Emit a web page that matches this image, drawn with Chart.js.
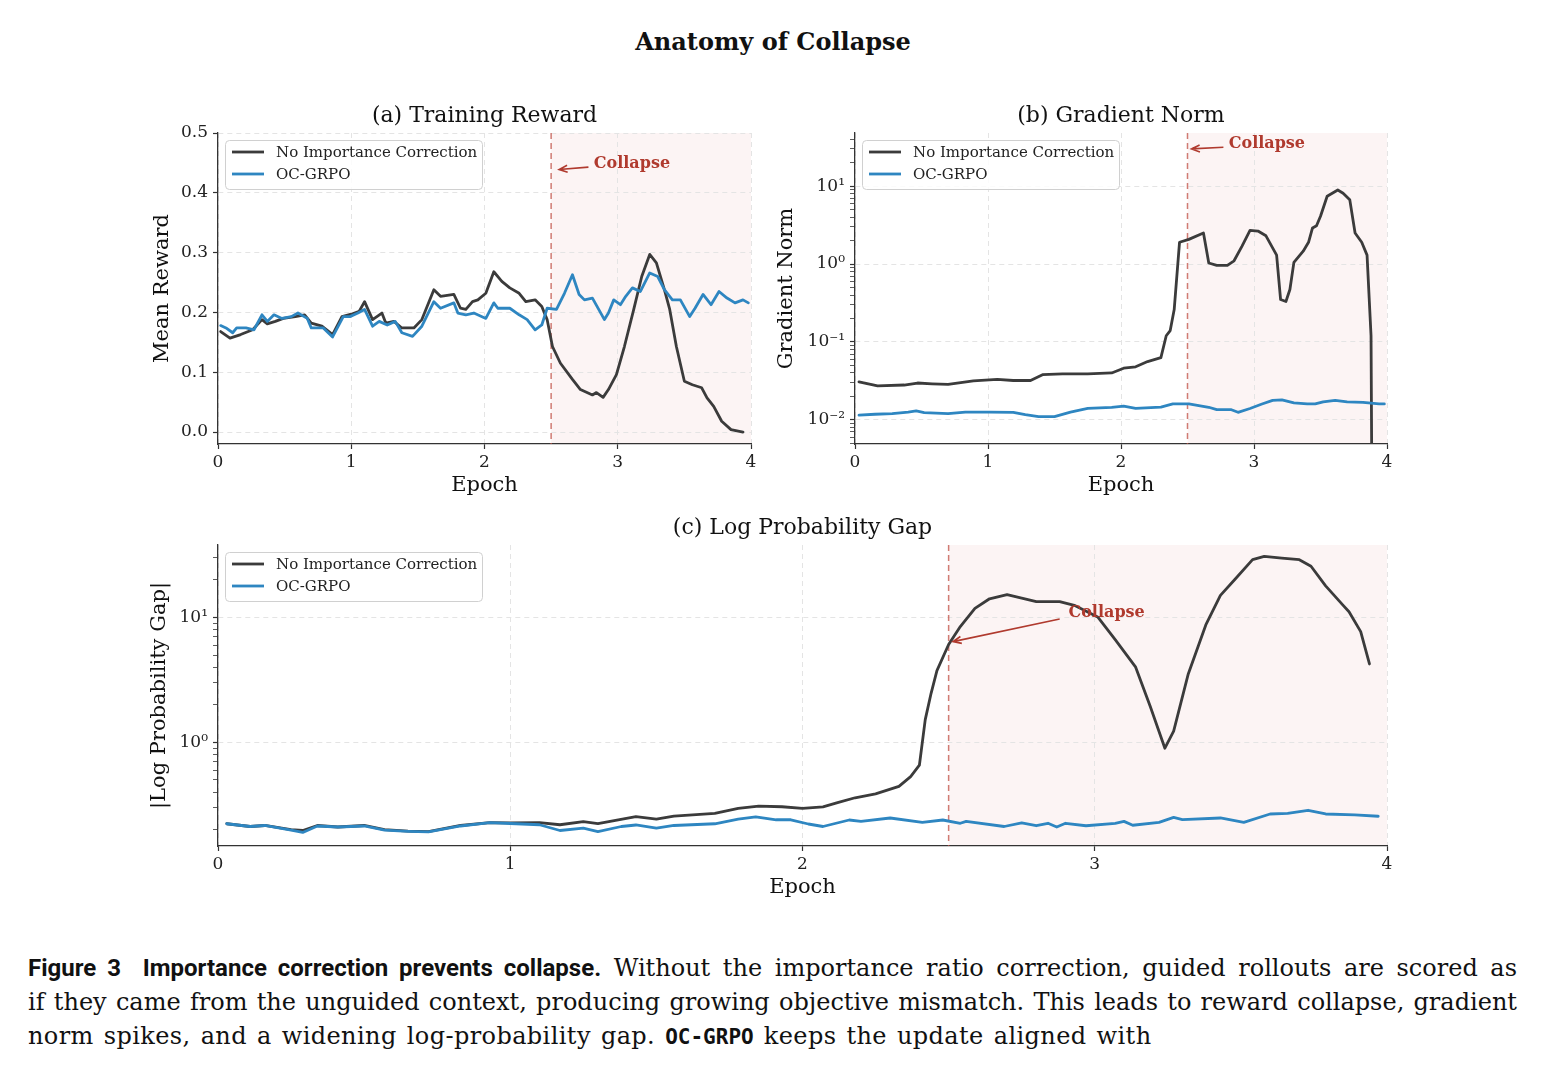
<!DOCTYPE html>
<html>
<head>
<meta charset="utf-8">
<script src="https://cdn.jsdelivr.net/npm/chart.js@4.4.1/dist/chart.umd.min.js"></script>
<style>
  body { margin: 0; background: #fff; width: 1546px; height: 1080px; position: relative; overflow: hidden; }
  .panel { position: absolute; }
  #mainTitle { position: absolute; left: 0; top: 27px; width: 1546px; text-align: center;
    font: bold 24px 'DejaVu Serif', serif; color: #111; }
  #caption { position: absolute; left: 28px; top: 951px; width: 1489px; color: #111;
    font: 24px 'DejaVu Serif', serif; line-height: 34px; }
  #caption .line { text-align: justify; text-align-last: justify; }
  #caption .last { text-align: left; text-align-last: left; letter-spacing: 0.4px; word-spacing: 2px; }
  #caption b { font-family: Roboto, 'Liberation Sans', sans-serif; font-weight: bold; font-size: 24px; letter-spacing: 0; }
  #caption code { font-family: 'DejaVu Sans Mono', monospace; font-size: 21px; font-weight: bold; letter-spacing: 0; }
</style>
</head>
<body>
<div id="mainTitle">Anatomy of Collapse</div>

<div class="panel" style="left:118px;top:100px;"><canvas id="chartA" width="650" height="410"></canvas></div>
<div class="panel" style="left:755px;top:100px;"><canvas id="chartB" width="650" height="410"></canvas></div>
<div class="panel" style="left:118px;top:510px;"><canvas id="chartC" width="1290" height="410"></canvas></div>

<div id="caption">
  <div class="line"><b>Figure 3&nbsp;&nbsp;Importance correction prevents collapse.</b> Without the importance ratio correction, guided rollouts are scored as</div>
  <div class="line">if they came from the unguided context, producing growing objective mismatch. This leads to reward collapse, gradient</div>
  <div class="line last">norm spikes, and a widening log-probability gap. <code>OC-GRPO</code> keeps the update aligned with</div>
</div>

<script>
// ---- data ----
const seriesNames = ['No Importance Correction', 'OC-GRPO'];
const epochTicks = [0, 1, 2, 3, 4];
const collapseEpoch = 2.5;

// (a) training reward
const rewardEpochsNoIC = [0.02,0.09,0.17,0.26,0.33,0.37,0.43,0.49,0.58,0.65,0.70,0.78,0.86,0.93,1.00,1.06,1.10,1.16,1.23,1.26,1.32,1.38,1.47,1.53,1.62,1.67,1.77,1.82,1.86,1.91,1.95,2.01,2.07,2.13,2.19,2.26,2.31,2.38,2.43,2.47,2.51,2.57,2.66,2.72,2.81,2.84,2.89,2.93,2.99,3.05,3.12,3.18,3.24,3.29,3.35,3.39,3.44,3.50,3.56,3.63,3.67,3.72,3.78,3.85,3.94];
const rewardNoIC = [0.168,0.157,0.163,0.171,0.188,0.181,0.185,0.190,0.193,0.196,0.182,0.177,0.163,0.193,0.197,0.202,0.218,0.188,0.199,0.182,0.185,0.174,0.174,0.188,0.238,0.227,0.230,0.207,0.205,0.218,0.221,0.232,0.268,0.252,0.241,0.232,0.218,0.221,0.210,0.188,0.143,0.115,0.088,0.071,0.062,0.066,0.058,0.071,0.096,0.143,0.205,0.260,0.297,0.283,0.238,0.205,0.143,0.085,0.079,0.074,0.057,0.043,0.018,0.004,0.000];
const rewardEpochsOC = [0.02,0.06,0.11,0.14,0.21,0.27,0.33,0.37,0.42,0.48,0.55,0.60,0.67,0.70,0.79,0.86,0.94,0.99,1.05,1.10,1.16,1.21,1.27,1.33,1.38,1.46,1.53,1.62,1.67,1.77,1.80,1.86,1.92,2.01,2.07,2.10,2.19,2.26,2.32,2.38,2.43,2.47,2.54,2.60,2.66,2.71,2.75,2.81,2.90,2.93,2.97,3.02,3.06,3.11,3.17,3.24,3.30,3.35,3.41,3.47,3.54,3.58,3.64,3.70,3.76,3.82,3.88,3.94,3.98];
const rewardOC = [0.178,0.174,0.166,0.174,0.174,0.171,0.196,0.185,0.196,0.190,0.193,0.199,0.190,0.174,0.174,0.159,0.193,0.193,0.199,0.205,0.177,0.185,0.179,0.185,0.166,0.160,0.177,0.218,0.207,0.216,0.199,0.196,0.199,0.190,0.216,0.207,0.207,0.196,0.188,0.171,0.179,0.207,0.205,0.232,0.263,0.230,0.221,0.224,0.188,0.199,0.221,0.213,0.227,0.241,0.235,0.266,0.260,0.238,0.221,0.221,0.193,0.207,0.230,0.213,0.235,0.224,0.216,0.221,0.216];
const rewardTicks = [0, 0.1, 0.2, 0.3, 0.4, 0.5];

// (b) gradient norm
const gradEpochsNoIC = [0.03,0.17,0.37,0.47,0.58,0.70,0.89,1.07,1.19,1.32,1.41,1.56,1.75,1.93,2.02,2.11,2.20,2.30,2.34,2.37,2.40,2.44,2.51,2.62,2.66,2.72,2.80,2.85,2.91,2.97,3.03,3.09,3.17,3.20,3.24,3.27,3.30,3.37,3.41,3.44,3.47,3.50,3.55,3.63,3.67,3.72,3.76,3.81,3.85,3.88,3.89];
const gradNoIC = [0.0307,0.0273,0.0280,0.0297,0.0290,0.0285,0.0316,0.0330,0.0320,0.0320,0.0380,0.0390,0.0390,0.0400,0.0460,0.0480,0.0560,0.0630,0.120,0.140,0.260,1.90,2.07,2.50,1.03,0.96,0.96,1.10,1.70,2.70,2.65,2.30,1.30,0.35,0.33,0.47,1.05,1.46,1.90,2.90,3.10,4.10,7.40,8.90,8.10,6.70,2.50,1.90,1.30,0.12,0.0001];
const gradEpochsOC = [0.03,0.15,0.28,0.40,0.46,0.52,0.70,0.83,1.01,1.19,1.28,1.38,1.50,1.62,1.75,1.93,2.02,2.11,2.30,2.39,2.51,2.66,2.72,2.83,2.88,2.97,3.06,3.14,3.21,3.30,3.40,3.46,3.52,3.61,3.70,3.82,3.94,3.98];
const gradOC = [0.0115,0.0118,0.0120,0.0126,0.0130,0.0124,0.0120,0.0126,0.0126,0.0125,0.0117,0.0110,0.0110,0.0126,0.0140,0.0145,0.0150,0.0140,0.0146,0.0160,0.0160,0.0145,0.0135,0.0135,0.0125,0.0140,0.0160,0.0178,0.0180,0.0165,0.0160,0.0160,0.0170,0.0178,0.0170,0.0168,0.0160,0.0160];
const gradTickValues = [0.01, 0.1, 1, 10];
const gradTickLabels = ['10\u207B\u00B2', '10\u207B\u00B9', '10\u2070', '10\u00B9'];

// (c) log probability gap
const gapEpochsNoIC = [0.03,0.11,0.16,0.25,0.29,0.34,0.41,0.50,0.57,0.65,0.72,0.83,0.93,1.00,1.10,1.17,1.25,1.30,1.43,1.50,1.56,1.70,1.78,1.85,1.93,2.00,2.07,2.12,2.18,2.25,2.33,2.37,2.40,2.42,2.44,2.46,2.50,2.54,2.59,2.64,2.70,2.75,2.80,2.88,2.93,3.01,3.07,3.14,3.19,3.24,3.27,3.32,3.38,3.43,3.48,3.54,3.58,3.64,3.70,3.74,3.79,3.85,3.87,3.91,3.94];
const gapNoIC = [0.223,0.212,0.216,0.200,0.197,0.216,0.210,0.216,0.200,0.195,0.193,0.216,0.228,0.227,0.228,0.219,0.232,0.224,0.254,0.243,0.257,0.270,0.296,0.309,0.305,0.296,0.304,0.329,0.360,0.387,0.444,0.532,0.656,1.52,2.47,3.75,6.07,8.45,11.8,14.1,15.2,14.3,13.4,13.4,12.5,10.1,6.64,4.00,1.94,0.898,1.23,3.53,8.70,15.0,20.2,29.0,30.8,29.8,29.0,25.7,17.9,12.5,11.1,7.70,4.24];
const gapEpochsOC = [0.03,0.11,0.16,0.25,0.29,0.34,0.41,0.50,0.57,0.65,0.72,0.83,0.93,1.00,1.10,1.17,1.25,1.30,1.38,1.43,1.50,1.56,1.70,1.78,1.84,1.91,1.96,2.02,2.07,2.16,2.20,2.30,2.41,2.48,2.54,2.56,2.69,2.75,2.80,2.84,2.87,2.90,2.97,3.07,3.10,3.13,3.22,3.27,3.30,3.43,3.51,3.60,3.66,3.73,3.79,3.89,3.97];
const gapOC = [0.223,0.212,0.216,0.198,0.190,0.214,0.210,0.214,0.198,0.194,0.192,0.214,0.228,0.224,0.219,0.197,0.206,0.193,0.212,0.218,0.206,0.216,0.223,0.243,0.253,0.240,0.240,0.222,0.212,0.239,0.233,0.248,0.229,0.239,0.225,0.233,0.212,0.227,0.215,0.225,0.210,0.225,0.215,0.225,0.233,0.217,0.229,0.251,0.241,0.248,0.229,0.267,0.270,0.286,0.267,0.263,0.256];
const gapTickValues = [1, 10];
const gapTickLabels = ['10\u2070', '10\u00B9'];

// ---- styling ----
const INK = '#3b3b3b';
const BLUE = '#2e86c1';
const RED = '#b03a2e';
const SERIF = "'DejaVu Serif', serif";
Chart.defaults.font.family = SERIF;
Chart.defaults.color = '#222';

function toPoints(xs, ys) {
  return xs.map((x, i) => ({ x: x, y: ys[i] }));
}

function logTicks(min, max, majors) {
  const out = [];
  for (let e = -4; e <= 2; e++) {
    for (let m = 1; m < 10; m++) {
      const v = m * Math.pow(10, e);
      if (v >= min && v <= max) out.push({ value: v, major: majors.some(t => Math.abs(t - v) < v * 1e-6) });
    }
  }
  return out;
}

// shaded collapse region, dashed marker, arrow + label, legend box
const panelDecor = {
  id: 'panelDecor',
  beforeDraw(chart, args, o) {
    const { ctx, chartArea: a, scales: { x } } = chart;
    const x0 = x.getPixelForValue(collapseEpoch);
    ctx.save();
    ctx.fillStyle = 'rgba(200,60,60,0.06)';
    ctx.fillRect(x0, a.top, a.right - x0, a.bottom - a.top);
    ctx.restore();
  },
  beforeDatasetsDraw(chart) {
    const { ctx, chartArea: a, scales: { x } } = chart;
    const x0 = x.getPixelForValue(collapseEpoch);
    ctx.save();
    ctx.strokeStyle = 'rgba(192,80,70,0.75)';
    ctx.lineWidth = 1.5;
    ctx.setLineDash([6, 4]);
    ctx.beginPath();
    ctx.moveTo(x0, a.top);
    ctx.lineTo(x0, a.bottom);
    ctx.stroke();
    ctx.restore();
  },
  afterDatasetsDraw(chart, args, o) {
    const { ctx, chartArea: a, scales: { x, y } } = chart;
    // annotation
    const tx = x.getPixelForValue(o.arrowFrom[0]), ty = y.getPixelForValue(o.arrowFrom[1]);
    const hx = x.getPixelForValue(o.arrowTo[0]), hy = y.getPixelForValue(o.arrowTo[1]);
    const ang = Math.atan2(hy - ty, hx - tx);
    ctx.save();
    ctx.strokeStyle = RED;
    ctx.lineWidth = 1.6;
    ctx.beginPath();
    ctx.moveTo(tx, ty);
    ctx.lineTo(hx, hy);
    ctx.moveTo(hx - 9 * Math.cos(ang - 0.4), hy - 9 * Math.sin(ang - 0.4));
    ctx.lineTo(hx, hy);
    ctx.lineTo(hx - 9 * Math.cos(ang + 0.4), hy - 9 * Math.sin(ang + 0.4));
    ctx.stroke();
    ctx.fillStyle = RED;
    ctx.font = 'bold 16px ' + SERIF;
    ctx.textAlign = 'left';
    ctx.textBaseline = 'middle';
    ctx.fillText('Collapse', x.getPixelForValue(o.textAt[0]), y.getPixelForValue(o.textAt[1]));
    ctx.restore();

    // legend
    const bx = a.left + 7, by = a.top + 7, bw = 257, bh = 49;
    ctx.save();
    ctx.fillStyle = 'rgba(255,255,255,0.85)';
    ctx.strokeStyle = '#d0d0d0';
    ctx.lineWidth = 1;
    ctx.beginPath();
    ctx.roundRect(bx + 0.5, by + 0.5, bw, bh, 4);
    ctx.fill();
    ctx.stroke();
    [INK, BLUE].forEach((c, i) => {
      const ly = by + 12 + i * 22;
      ctx.strokeStyle = c;
      ctx.lineWidth = 2.8;
      ctx.beginPath();
      ctx.moveTo(bx + 7, ly);
      ctx.lineTo(bx + 39, ly);
      ctx.stroke();
      ctx.fillStyle = '#222';
      ctx.font = '15px ' + SERIF;
      ctx.textAlign = 'left';
      ctx.textBaseline = 'middle';
      ctx.fillText(seriesNames[i], bx + 51, ly + 1);
    });
    ctx.restore();
  }
};

function lineSet(label, xs, ys, color, order) {
  return {
    label: label,
    data: toPoints(xs, ys),
    borderColor: color,
    backgroundColor: color,
    borderWidth: 2.8,
    pointRadius: 0,
    tension: 0,
    borderJoinStyle: 'round',
    borderCapStyle: 'round',
    order: order
  };
}

function xAxis(height, titlePad) {
  return {
    type: 'linear', min: 0, max: 4,
    afterBuildTicks: s => { s.ticks = epochTicks.map(v => ({ value: v })); },
    ticks: { font: { size: 17 }, color: '#222', padding: 3, callback: v => String(v) },
    grid: { color: '#e4e4e4', lineWidth: 1, tickColor: '#333', tickLength: 5, tickWidth: 1.2 },
    border: { display: true, color: '#333', width: 1.3, dash: [5, 4] },
    title: { display: true, text: 'Epoch', font: { size: 21 }, color: '#111', padding: { top: 0, bottom: titlePad } },
    afterFit: s => { s.height = height; }
  };
}

function makePanel(id, cfg) {
  return new Chart(document.getElementById(id), {
    type: 'line',
    data: {
      datasets: [
        lineSet(seriesNames[0], cfg.xs[0], cfg.ys[0], INK, 1),
        lineSet(seriesNames[1], cfg.xs[1], cfg.ys[1], BLUE, 0)
      ]
    },
    options: {
      responsive: false,
      animation: false,
      events: [],
      layout: { padding: { top: 0, left: 0, right: cfg.padRight, bottom: 0 } },
      plugins: {
        legend: { display: false },
        tooltip: { enabled: false },
        title: {
          display: true, text: cfg.title, fullSize: false,
          font: { size: 22, weight: 'normal' }, color: '#111',
          padding: { top: cfg.titlePad[0], bottom: cfg.titlePad[1] }
        },
        panelDecor: cfg.note
      },
      scales: { x: xAxis(cfg.xHeight, cfg.xTitlePad), y: cfg.y }
    },
    plugins: [panelDecor]
  });
}

function logYAxis(min, max, tickValues, tickLabels, title, titlePad) {
  return {
    type: 'logarithmic', min: min, max: max,
    afterBuildTicks: s => { s.ticks = logTicks(min, max, tickValues); },
    ticks: {
      font: { size: 17 }, color: '#222', padding: 5, autoSkip: false,
      callback: (v, i, ticks) => {
        const k = tickValues.findIndex(t => Math.abs(t - v) < v * 1e-6);
        return k >= 0 ? tickLabels[k] : '';
      }
    },
    grid: {
      color: c => (c.tick && c.tick.major) ? '#e4e4e4' : 'rgba(0,0,0,0)',
      tickColor: '#333', tickLength: 5,
      tickWidth: c => (c.tick && c.tick.major) ? 1.2 : 0.8
    },
    border: { display: true, color: '#333', width: 1.3, dash: [5, 4] },
    title: { display: true, text: title, font: { size: 21 }, color: '#111', padding: { top: titlePad, bottom: 0 } },
    afterFit: s => { s.width = 100; }
  };
}

makePanel('chartA', {
  title: '(a) Training Reward',
  titlePad: [3, 3.6], padRight: 17, xHeight: 66, xTitlePad: 11.4,
  xs: [rewardEpochsNoIC, rewardEpochsOC], ys: [rewardNoIC, rewardOC],
  note: { arrowFrom: [2.78, 0.443], arrowTo: [2.56, 0.439], textAt: [2.82, 0.449] },
  y: {
    type: 'linear', min: -0.02, max: 0.5,
    afterBuildTicks: s => { s.ticks = rewardTicks.map(v => ({ value: v })); },
    ticks: { font: { size: 17 }, color: '#222', padding: 5, callback: v => v.toFixed(1) },
    grid: { color: '#e4e4e4', tickColor: '#333', tickLength: 5, tickWidth: 1.2 },
    border: { display: true, color: '#333', width: 1.3, dash: [5, 4] },
    title: { display: true, text: 'Mean Reward', font: { size: 21 }, color: '#111', padding: { top: 32, bottom: 0 } },
    afterFit: s => { s.width = 100; }
  }
});

makePanel('chartB', {
  title: '(b) Gradient Norm',
  titlePad: [3, 3.6], padRight: 18, xHeight: 66, xTitlePad: 11.4,
  xs: [gradEpochsNoIC, gradEpochsOC], ys: [gradNoIC, gradOC],
  note: { arrowFrom: [2.77, 31.5], arrowTo: [2.53, 30], textAt: [2.81, 34.5] },
  y: logYAxis(0.0049, 48, gradTickValues, gradTickLabels, 'Gradient Norm', 19.4)
});

makePanel('chartC', {
  title: '(c) Log Probability Gap',
  titlePad: [4.8, 3.8], padRight: 21, xHeight: 74, xTitlePad: 19.4,
  xs: [gapEpochsNoIC, gapEpochsOC], ys: [gapNoIC, gapOC],
  note: { arrowFrom: [2.88, 9.7], arrowTo: [2.515, 6.4], textAt: [2.91, 10.9] },
  y: logYAxis(0.148, 38, gapTickValues, gapTickLabels, '|Log Probability Gap|', 29.4)
});
</script>
</body>
</html>
